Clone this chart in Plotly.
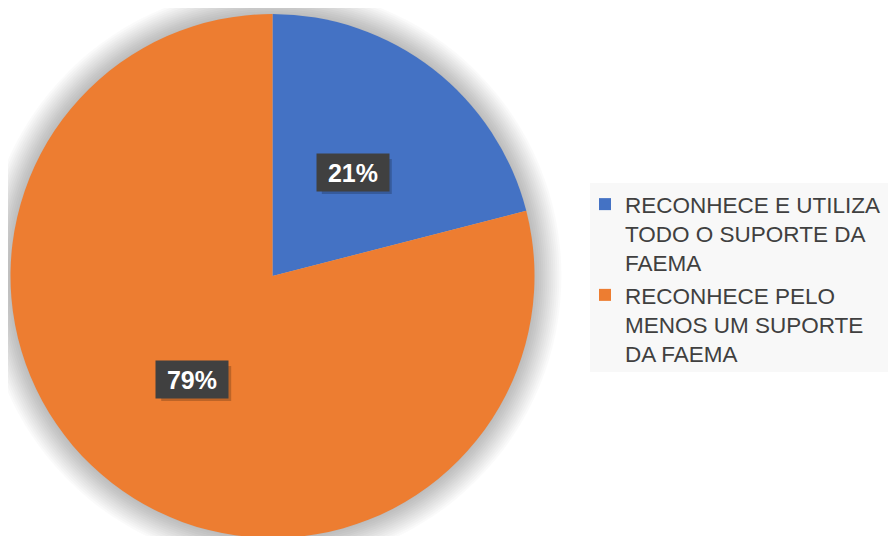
import math
import plotly.graph_objects as go

labels = ["RECONHECE E UTILIZA<br>TODO O SUPORTE DA<br>FAEMA",
          "RECONHECE PELO<br>MENOS UM SUPORTE<br>DA FAEMA"]
values = [21, 79]
colors = ["#4472C4", "#ED7D31"]

W, H = 896, 536
OFF = 8  # page body margin: figure is drawn 8px right/down of the window corner

# desired pie geometry in window pixels (layout only)
CX_WIN, CY_WIN, R = 272.5, 276.0, 262.0
cx_px = CX_WIN - OFF
cy_px = CY_WIN - OFF
dom_x = [(cx_px - R) / W, (cx_px + R) / W]
dom_y = [(H - (cy_px + R)) / H, (H - (cy_px - R)) / H]
r_px = R

fig = go.Figure()
fig.add_trace(go.Pie(
    labels=labels, values=values, sort=False, direction="clockwise", rotation=0,
    marker=dict(colors=colors, line=dict(width=0)),
    textinfo="none", hoverinfo="label+percent",
    domain=dict(x=dom_x, y=dom_y),
))

# soft shadow around the pie
shapes = []
for i in range(14):
    rr = r_px + 1 + i * 2
    shapes.append(dict(
        type="circle", xref="paper", yref="paper", layer="below",
        x0=(cx_px - rr) / W, x1=(cx_px + rr) / W,
        y0=(H - (cy_px + rr)) / H, y1=(H - (cy_px - rr)) / H,
        fillcolor="rgba(0,0,0,0.02)", line=dict(width=0),
    ))

# legend background panel (window px 590..896, 183..372)
shapes.append(dict(
    type="rect", xref="paper", yref="paper", layer="below",
    x0=(590 - OFF) / W, x1=(904 - OFF) / W,
    y0=(H - (372 - OFF)) / H, y1=(H - (183 - OFF)) / H,
    fillcolor="#f8f8f8", line=dict(width=0),
))

# percentage labels with dark boxes, placed at half radius of each slice's mid angle
total = sum(values)
annotations = []
BW, BH = 70, 35
cum = 0
for v in values:
    mid = (cum + v / 2) / total * 2 * math.pi
    cum += v
    px = cx_px + 0.5 * r_px * math.sin(mid)
    py = cy_px - 0.5 * r_px * math.cos(mid)
    # box shadow
    shapes.append(dict(
        type="rect", xref="paper", yref="paper", layer="above",
        x0=(px - BW / 2 + 4) / W, x1=(px + BW / 2 + 4) / W,
        y0=(H - (py + BH / 2 + 4)) / H, y1=(H - (py - BH / 2 + 4)) / H,
        fillcolor="rgba(0,0,0,0.2)", line=dict(width=0),
    ))
    annotations.append(dict(
        x=px / W, y=(H - py) / H, xref="paper", yref="paper",
        xanchor="center", yanchor="middle",
        text=f"<b>{round(v / total * 100)}%</b>", showarrow=False,
        width=BW, height=BH, bgcolor="#404040",
        font=dict(color="white", size=25, family="Liberation Sans, Arial"),
    ))

fig.update_layout(
    width=W, height=H,
    margin=dict(l=0, r=0, t=0, b=0),
    paper_bgcolor="white",
    shapes=shapes,
    annotations=annotations,
    showlegend=True,
    legend=dict(
        x=(585 - OFF) / W, xanchor="left", y=(H - (183 - OFF)) / H, yanchor="top",
        bgcolor="rgba(0,0,0,0)", borderwidth=0, valign="top",
        font=dict(family="Liberation Sans, Arial", size=22.5, color="#404040"),
        itemwidth=30,
    ),
)

fig.write_html("out.html")
